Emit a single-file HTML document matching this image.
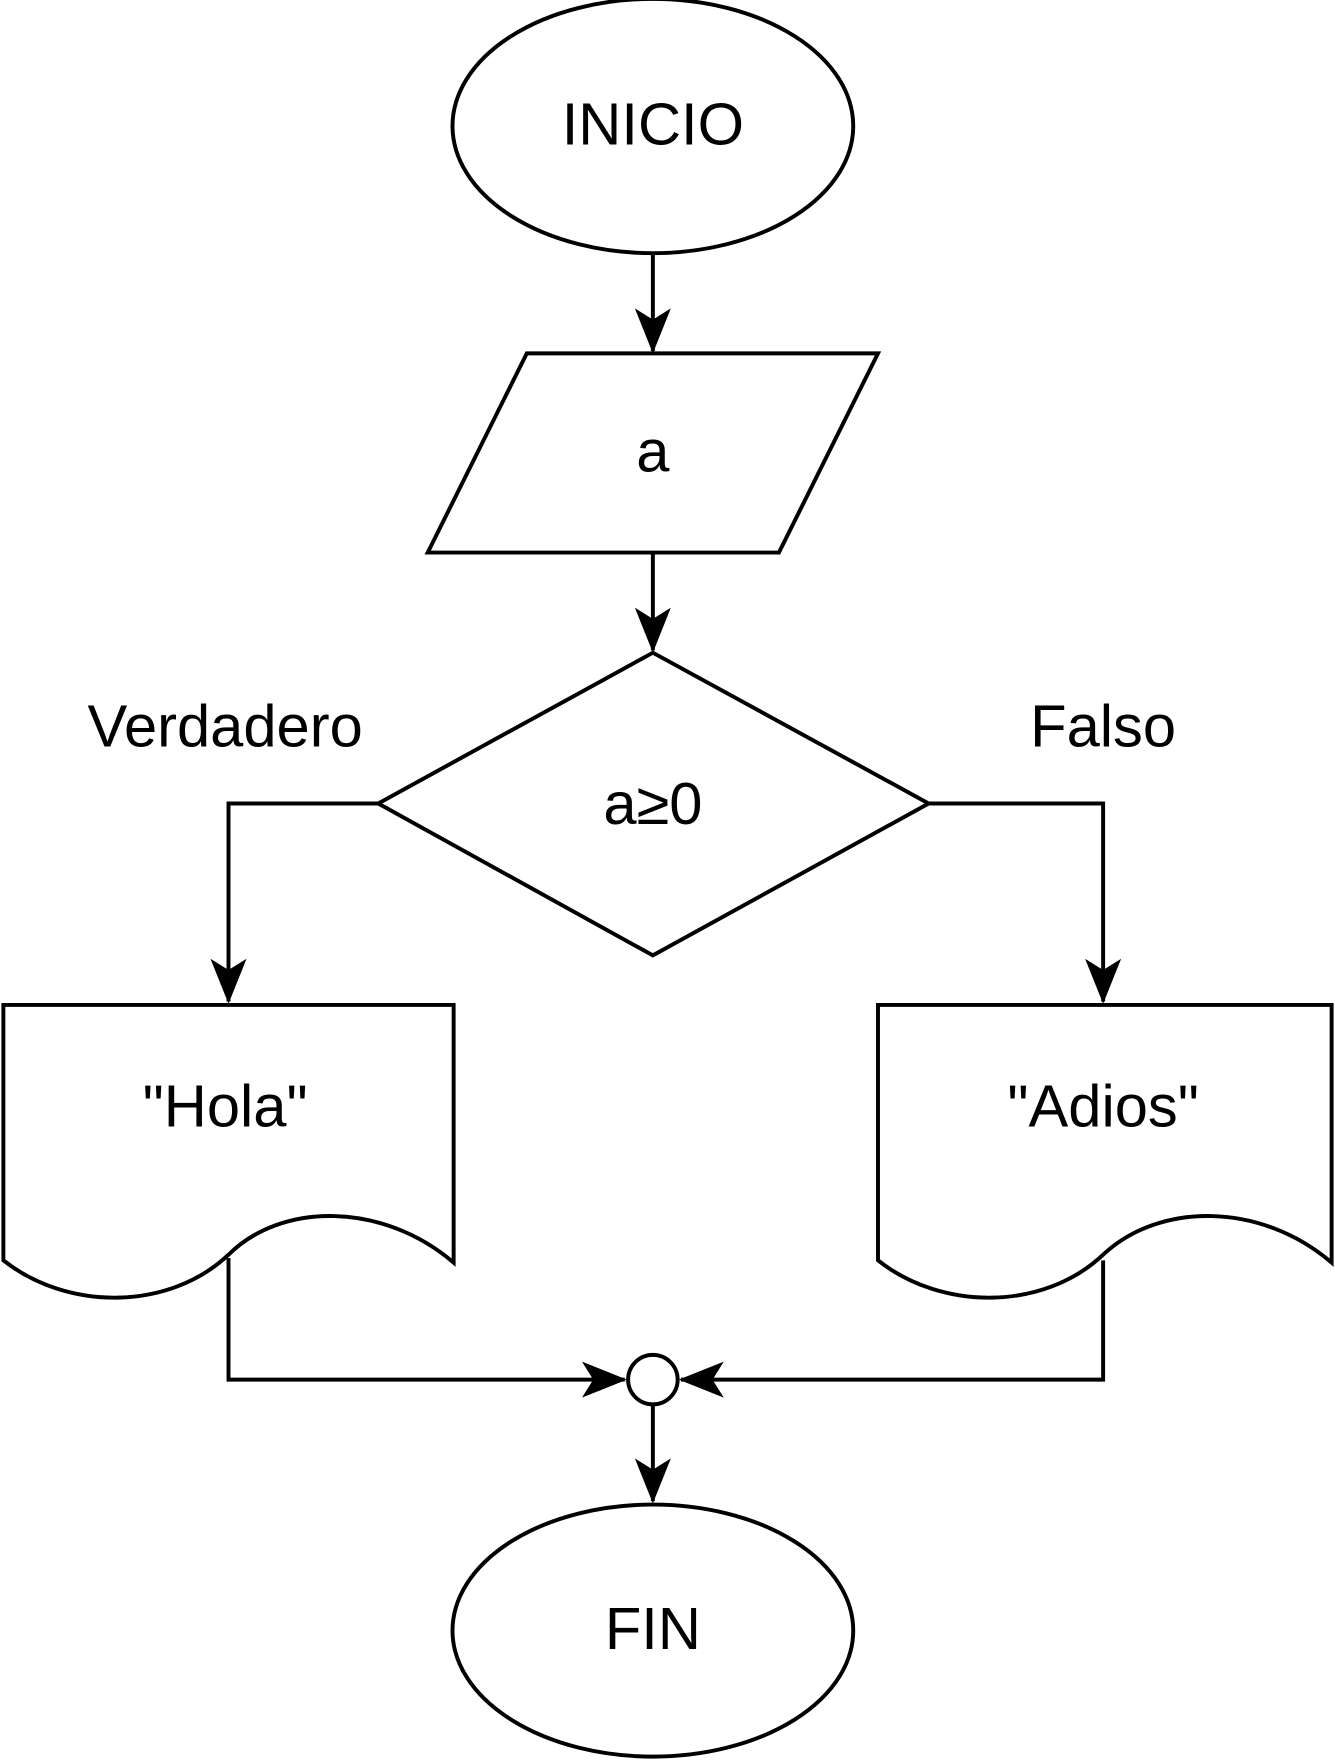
<!DOCTYPE html>
<html><head><meta charset="utf-8"><style>
html,body{margin:0;padding:0;background:#fff;}
svg{display:block;}
text{font-family:"Liberation Sans",sans-serif;font-size:53px;fill:#000;text-anchor:middle;dominant-baseline:central;}
</style></head><body>
<svg width="1335" height="1760" viewBox="0 0 1186 1564" preserveAspectRatio="none" xmlns="http://www.w3.org/2000/svg">
<defs>
<marker id="ar" viewBox="0 0 40 32" refX="38" refY="16" markerWidth="40" markerHeight="32" markerUnits="userSpaceOnUse" orient="auto">
<path d="M0,0 L40,16 L0,32 L10,16 Z" fill="#000"/>
</marker>
</defs>
<g fill="none" stroke="#000" stroke-width="3.5">
<ellipse cx="580" cy="112" rx="178" ry="113" fill="#fff"/>
<line x1="580" y1="226" x2="580" y2="312" marker-end="url(#ar)"/>
<polygon points="468,314 780,314 692,491 380,491" fill="#fff"/>
<line x1="580" y1="491" x2="580" y2="578" marker-end="url(#ar)"/>
<polygon points="580,580 825,714 580,849 336,714" fill="#fff"/>
<polyline points="336,714 203,714 203,890" marker-end="url(#ar)"/>
<polyline points="825,714 980,714 980,890" marker-end="url(#ar)"/>
<path d="M3,893 H403 V1122 C340,1068 250,1068 203,1115 C150,1165 60,1165 3,1120 Z" fill="#fff"/>
<path d="M780,893 H1183 V1122 C1120,1068 1030,1068 980,1115 C927,1165 837,1165 780,1120 Z" fill="#fff"/>
<polyline points="203,1118 203,1226 555,1226" marker-end="url(#ar)"/>
<polyline points="980,1120 980,1226 605,1226" marker-end="url(#ar)"/>
<circle cx="580" cy="1226" r="22" fill="#fff"/>
<line x1="580" y1="1248" x2="580" y2="1334" marker-end="url(#ar)"/>
<ellipse cx="580" cy="1449" rx="178" ry="112" fill="#fff"/>
</g>
<text x="580" y="110">INICIO</text>
<text x="580" y="401">a</text>
<text x="580" y="714">a≥0</text>
<text x="200" y="645">Verdadero</text>
<text x="980" y="645">Falso</text>
<text x="200" y="983">"Hola"</text>
<text x="980" y="983">"Adios"</text>
<text x="580" y="1447">FIN</text>
</svg>
</body></html>
